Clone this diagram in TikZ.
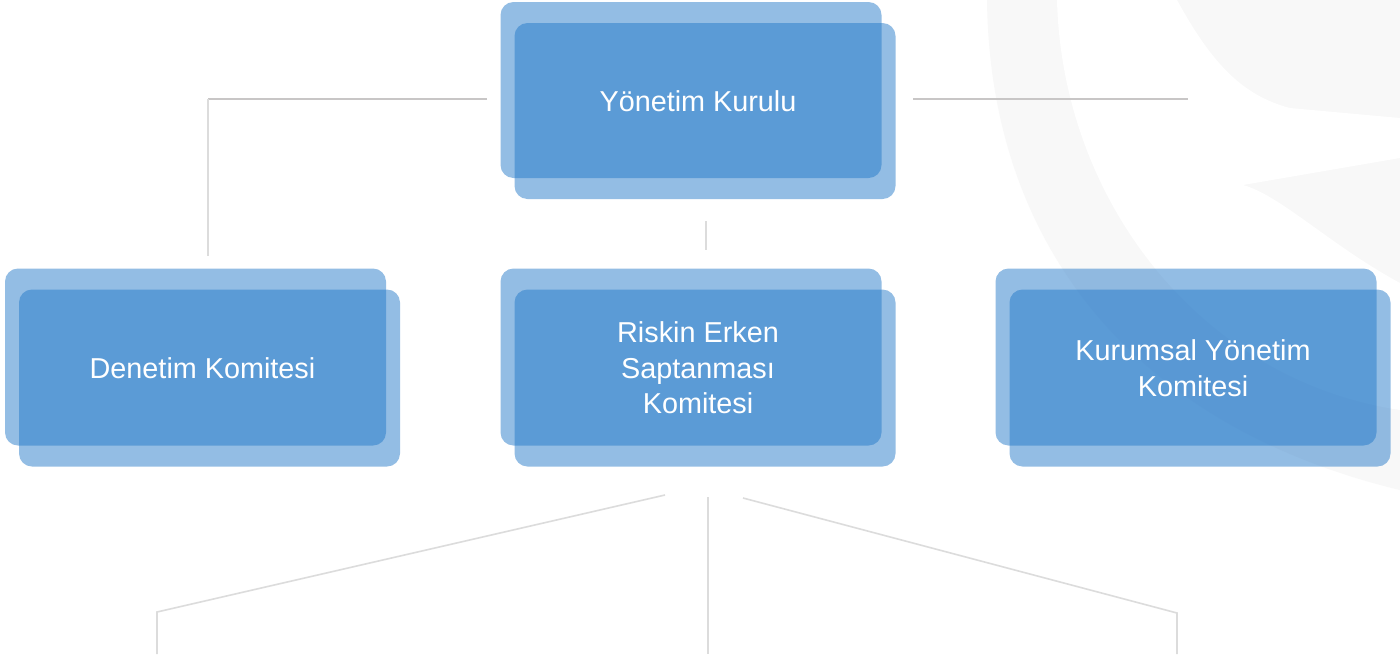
\documentclass[tikz,border=0pt]{standalone}
\usepackage{fontspec}
\setmainfont{Liberation Sans}
\definecolor{boxblue}{RGB}{31,118,199}
\definecolor{wm}{RGB}{248,248,248}
\definecolor{connA}{RGB}{200,198,198}
\definecolor{connB}{RGB}{220,220,220}
\tikzset{
  panel/.style={fill=boxblue, fill opacity=0.48, rounded corners=13pt,
    minimum width=381pt, minimum height=177pt, inner sep=0pt, draw=none},
  boxtext/.style={text=white, align=center, inner sep=0pt,
    font=\fontsize{28.8}{35.5}\selectfont},
  conline/.style={draw=connB, line width=1.6pt},
  conhead/.style={draw=connA, line width=2pt},
}
\begin{document}
\begin{tikzpicture}[x=1pt,y=-1pt]
\useasboundingbox (0,0) rectangle (1400,654);
\fill[white] (0,0) rectangle (1400,654);
% faint watermark
\fill[wm] (987,0) .. controls (990,260) and (1150,430) .. (1400,490) -- (1400,0) -- cycle;
\fill[white] (1057,0) .. controls (1062,200) and (1200,380) .. (1400,410)
  -- (1400,283) .. controls (1330,245) and (1280,195) .. (1243,185)
  -- (1400,158) -- (1400,118) -- (1290,108)
  .. controls (1240,95) and (1210,60) .. (1177,0) -- cycle;

% connectors
\coordinate (ta) at (487,99);
\coordinate (tb) at (208,99);
\coordinate (tc) at (208,256);
\coordinate (td) at (913,99);
\coordinate (te) at (1188,99);
\coordinate (ma) at (706,221);
\coordinate (mb) at (706,250);
\coordinate (ba) at (665,495);
\coordinate (bb) at (157,612);
\coordinate (bc) at (157,654);
\coordinate (bd) at (708,497);
\coordinate (be) at (708,654);
\coordinate (bf) at (743,498);
\coordinate (bg) at (1177,613);
\coordinate (bh) at (1177,654);
\draw[conhead] (ta) -- (tb);
\draw[conline] (tb) -- (tc);
\draw[conhead] (td) -- (te);
\draw[conline] (ma) -- (mb);
\draw[conline] (ba) -- (bb) -- (bc);
\draw[conline] (bd) -- (be);
\draw[conline] (bf) -- (bg) -- (bh);

% boxes
\node[panel, minimum height=176pt] (yk) at (691,90) {};
\node[panel, minimum height=176pt] (ykf) at (705,111) {};
\node[boxtext] (ykt) at (698,101) {Yönetim Kurulu};

\node[panel] (dk) at (195.5,357) {};
\node[panel] (dkf) at (209.5,378) {};
\node[boxtext] (dkt) at (202.5,368) {Denetim Komitesi};

\node[panel] (rk) at (691,357) {};
\node[panel] (rkf) at (705,378) {};
\node[boxtext] (rkt) at (698,368) {Riskin Erken\\Saptanması\\Komitesi};

\node[panel] (ky) at (1186,357) {};
\node[panel] (kyf) at (1200,378) {};
\node[boxtext] (kyt) at (1193,368) {Kurumsal Yönetim\\Komitesi};
\end{tikzpicture}
\end{document}
